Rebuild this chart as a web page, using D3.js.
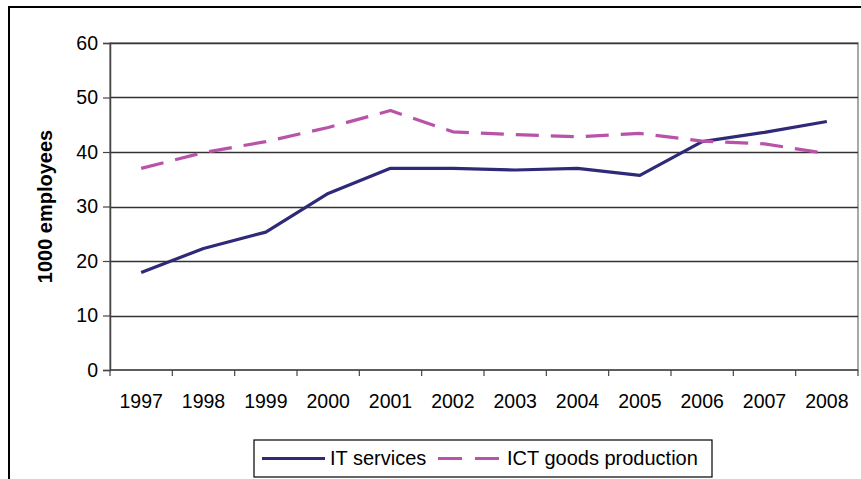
<!DOCTYPE html>
<html>
<head>
<meta charset="utf-8">
<script src="https://cdn.jsdelivr.net/npm/d3@7"></script>
<style>
  html, body { margin: 0; padding: 0; background: #fff; }
  svg { display: block; font-family: "Liberation Sans", Arial, sans-serif; }
</style>
</head>
<body>
<svg id="chart" width="861" height="479"></svg>
<script>
// Employment (thousands), 1997–2008
const years = ["1997","1998","1999","2000","2001","2002","2003","2004","2005","2006","2007","2008"];
const itServices = [17.9, 22.3, 25.3, 32.4, 37.0, 37.0, 36.7, 37.0, 35.7, 41.9, 43.6, 45.6];
const ictGoods   = [37.0, 39.9, 41.9, 44.5, 47.6, 43.7, 43.2, 42.8, 43.4, 42.0, 41.5, 39.7];
const yTicks = [0, 10, 20, 30, 40, 50, 60];

const series = [
  { name: "IT services", values: itServices, color: "#2e2a78", dash: null },
  { name: "ICT goods production", values: ictGoods, color: "#b952a9", dash: "23,12" }
];

const svg = d3.select("#chart");
const plot = { left: 110, right: 858, top: 43, bottom: 370 };

// Outer chart frame
svg.append("rect")
  .attr("x", 9).attr("y", 7)
  .attr("width", 870).attr("height", 490)
  .attr("fill", "none").attr("stroke", "#000").attr("stroke-width", 2);

const x = d3.scaleBand().domain(years).range([plot.left, plot.right]).padding(0);
const y = d3.scaleLinear().domain([0, 60]).range([plot.bottom, plot.top]);

// Plot area border
svg.append("rect")
  .attr("x", plot.left).attr("y", plot.top)
  .attr("width", plot.right - plot.left).attr("height", plot.bottom - plot.top)
  .attr("fill", "none").attr("stroke", "#8c8c8c").attr("stroke-width", 1.5);

// Horizontal gridlines
svg.append("g")
  .selectAll("line")
  .data(yTicks.filter(d => d > 0))
  .join("line")
  .attr("x1", plot.left).attr("x2", plot.right)
  .attr("y1", d => Math.round(y(d)) + 0.5).attr("y2", d => Math.round(y(d)) + 0.5)
  .attr("stroke", "#333").attr("stroke-width", 1.3);

// Y axis
const yAxis = svg.append("g")
  .attr("transform", `translate(${plot.left},0)`)
  .call(d3.axisLeft(y).tickValues(yTicks).tickSize(7).tickPadding(5).tickFormat(d3.format("d")));
yAxis.select(".domain").attr("stroke", "#444").attr("stroke-width", 1.5);
yAxis.selectAll(".tick line").attr("stroke", "#444").attr("stroke-width", 1.2);
yAxis.selectAll(".tick text")
  .attr("font-size", "19.5px").attr("fill", "#000")
  .attr("font-family", "Liberation Sans, Arial, sans-serif");

// X axis with ticks between categories
const xAxis = svg.append("g")
  .attr("transform", `translate(0,${plot.bottom})`);
xAxis.append("line")
  .attr("x1", plot.left).attr("x2", plot.right)
  .attr("y1", 0).attr("y2", 0)
  .attr("stroke", "#444").attr("stroke-width", 1.5);
const boundaries = years.map(d => x(d)).concat([x(years[years.length - 1]) + x.bandwidth()]);
xAxis.selectAll("line.tick")
  .data(boundaries)
  .join("line")
  .attr("class", "tick")
  .attr("x1", d => d).attr("x2", d => d)
  .attr("y1", 0).attr("y2", 6)
  .attr("stroke", "#444").attr("stroke-width", 1.2);
xAxis.selectAll("text")
  .data(years)
  .join("text")
  .attr("x", d => x(d) + x.bandwidth() / 2)
  .attr("y", 38)
  .attr("text-anchor", "middle")
  .attr("font-size", "19.5px")
  .attr("fill", "#000")
  .text(d => d);

// Y axis title
svg.append("text")
  .attr("transform", `translate(52,${(plot.top + plot.bottom) / 2}) rotate(-90)`)
  .attr("text-anchor", "middle")
  .attr("font-size", "20px")
  .attr("font-weight", "bold")
  .text("1000 employees");

// Lines
const line = d3.line()
  .x((d, i) => x(years[i]) + x.bandwidth() / 2)
  .y(d => y(d));

svg.append("g")
  .selectAll("path")
  .data(series)
  .join("path")
  .attr("d", d => line(d.values))
  .attr("fill", "none")
  .attr("stroke", d => d.color)
  .attr("stroke-width", 3.2)
  .attr("stroke-dasharray", d => d.dash)
  .attr("stroke-linejoin", "round");

// Legend
const legend = svg.append("g");
legend.append("rect")
  .attr("x", 254).attr("y", 440)
  .attr("width", 458).attr("height", 37)
  .attr("fill", "#fff").attr("stroke", "#000").attr("stroke-width", 1.2);

const legendItems = [
  { s: series[0], x1: 262, x2: 325, tx: 330 },
  { s: series[1], x1: 438, x2: 499, tx: 507 }
];
legendItems.forEach(it => {
  legend.append("line")
    .attr("x1", it.x1).attr("x2", it.x2)
    .attr("y1", 458.5).attr("y2", 458.5)
    .attr("stroke", it.s.color).attr("stroke-width", 3.2)
    .attr("stroke-dasharray", it.s.dash ? "24,13" : null);
  legend.append("text")
    .attr("x", it.tx).attr("y", 464.5)
    .attr("font-size", "20px")
    .attr("fill", "#000")
    .text(it.s.name);
});
</script>
</body>
</html>
